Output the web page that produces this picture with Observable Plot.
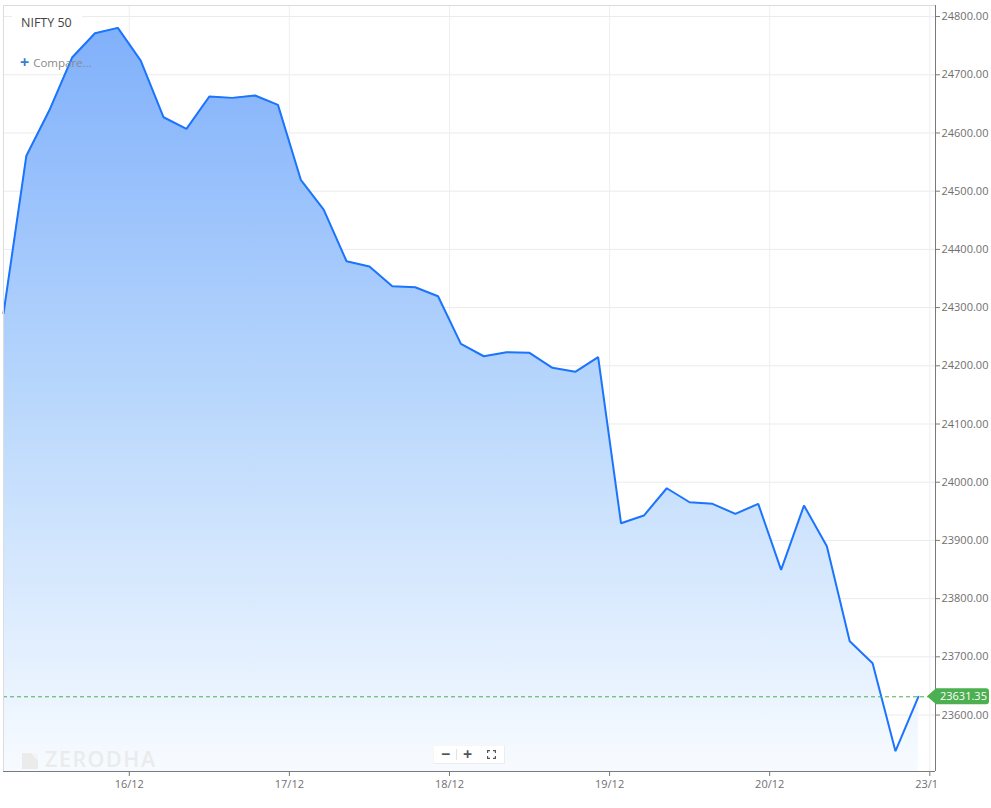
<!DOCTYPE html>
<html><head><meta charset="utf-8">
<script src="https://cdn.jsdelivr.net/npm/d3@7"></script>
<script src="https://cdn.jsdelivr.net/npm/@observablehq/plot@0.6"></script>
<style>
body{margin:0;background:#fff;font-family:"Open Sans",sans-serif;}
#wrap{position:relative;width:991px;height:808px;overflow:hidden;}
#wrap svg{position:absolute;left:0;top:0;}
.title{position:absolute;left:12px;top:9px;width:70px;height:30px;background:#fff;}
.title span{position:absolute;left:9px;top:5px;font-size:12.5px;color:#444;white-space:nowrap;}
.compare{position:absolute;left:20px;top:50px;font-size:11.5px;color:#8a8a8a;white-space:nowrap;}
.compare b{color:#387ed1;font-size:16px;font-weight:700;margin-right:4px;position:relative;top:1px;}
.wm{position:absolute;left:22px;top:744px;color:#ebebeb;font-size:21.5px;letter-spacing:1.5px;white-space:nowrap;font-weight:600;}
.wm svg{position:relative !important;vertical-align:-2px;margin-right:7px;}
.zc{position:absolute;left:433px;top:745px;width:70px;height:17px;background:#fff;border:1px solid #ececec;border-top-color:#f6f6f6;border-left-color:#f6f6f6;}
.zc span{position:absolute;top:-3px;font-size:16px;font-weight:700;color:#555;}
.zc i{position:absolute;left:22px;top:3px;width:1px;height:11px;background:#e3e3e3;}
</style></head><body><div id="wrap"></div>
<script>
// Sessions and hourly candles (close values)
const sessions = ["13/12","16/12","17/12","18/12","19/12","20/12"];
const hours = ["09:15","10:15","11:15","12:15","13:15","14:15","15:15"];
const tickLabels = ["16/12","17/12","18/12","19/12","20/12","23/12"];
const closes13 = [null, 24290, 24561, 24638.5, 24729.6, 24771.3, 24780.6];
const closes16 = [24724.4, 24627, 24607, 24662.6, 24660.3, 24664.3, 24648.3];
const closes17 = [24519.5, 24468.4, 24379.6, 24370.5, 24336.7, 24335, 24319.5];
const closes18 = [24237.7, 24216.4, 24223.3, 24222.3, 24196.5, 24189.6, 24215];
const closes19 = [23929.5, 23942.7, 23989.6, 23965.6, 23962.8, 23945.7, 23962.8];
const closes20 = [23849.5, 23960, 23890, 23726.8, 23689, 23538, 23631.35];
const lastPrice = 23631.35;
const yTicks = [23600, 23700, 23800, 23900, 24000, 24100, 24200, 24300, 24400, 24500, 24600, 24700, 24800];
const yDomain = [23503, 24819];

const allCloses = [closes13, closes16, closes17, closes18, closes19, closes20];
const data = [];
allCloses.forEach((arr, d) => arr.forEach((v, h) => {
  if (v != null) data.push({i: d * hours.length + h, day: sessions[d], time: hours[h], v});
}));
const n = hours.length;
const tickPos = tickLabels.map((_, k) => (k + 1) * n - 0.5);
const labelMap = new Map(tickPos.map((p, k) => [p, tickLabels[k]]));
const xDomain = [1, 6 * n - 0.25];

const defs = () => {
  const ns = "http://www.w3.org/2000/svg";
  const g = document.createElementNS(ns, "defs");
  g.innerHTML = `<linearGradient id="grad" gradientUnits="userSpaceOnUse" x1="0" y1="5" x2="0" y2="771">
      <stop offset="0" stop-color="#7daefb"/>
      <stop offset="0.5" stop-color="#b7d6fc"/>
      <stop offset="1" stop-color="#f7fbff"/>
    </linearGradient>
    <clipPath id="xclip"><rect x="0" y="0" width="936" height="808"/></clipPath>`;
  return g;
};

const plot = Plot.plot({
  width: 991, height: 808,
  marginLeft: 3, marginRight: 56, marginTop: 5, marginBottom: 37,
  style: {fontFamily: "'Open Sans', sans-serif", fontSize: "11px", background: "transparent", color: "#666"},
  x: {domain: xDomain, label: null},
  y: {domain: yDomain, label: null},
  marks: [
    defs,
    Plot.gridY(yTicks, {stroke: "#ebebeb", strokeOpacity: 1}),
    Plot.gridX(tickPos, {stroke: "#efefef", strokeOpacity: 1}),
    Plot.areaY(data, {x: "i", y: "v", fill: "url(#grad)", clip: true}),
    Plot.lineY(data, {x: "i", y: "v", stroke: "#1b74fd", strokeWidth: 2, strokeLinejoin: "miter"}),
    Plot.ruleY([lastPrice], {stroke: "#4caf50", strokeWidth: 1, strokeDasharray: "4,3"}),
    Plot.ruleY([yDomain[1]], {stroke: "#dcdcdc"}),
    Plot.ruleX([xDomain[0]], {stroke: "#dcdcdc"}),
    Plot.ruleY([yDomain[0]], {stroke: "#7a7a7a"}),
    Plot.ruleX([xDomain[1]], {stroke: "#7a7a7a"}),
    Plot.axisX({ticks: tickPos, tickFormat: d => labelMap.get(d), tickSize: 5, tickPadding: 4, stroke: "#7a7a7a", fill: "#6f6f6f", fontSize: 11}),
    Plot.axisY({anchor: "right", ticks: yTicks, tickFormat: d => d.toFixed(2), tickSize: 4, tickPadding: 2, stroke: "#7a7a7a", fill: "#6f6f6f", fontSize: 11})
  ]
});

const wrap = document.getElementById("wrap");
wrap.appendChild(plot);

// clip the last date label at the right axis like the original
const xl = plot.querySelector('g[aria-label="x-axis tick label"]');
if (xl) xl.setAttribute("clip-path", "url(#xclip)");

// last price tag
const yPos = plot.scale("y").apply(lastPrice);
const xR = plot.scale("x").apply(xDomain[1]);
const ns = "http://www.w3.org/2000/svg";
const tag = document.createElementNS(ns, "g");
tag.innerHTML = `<path d="M${xR-8},${yPos} L${xR+1},${yPos-8} L${xR+51},${yPos-8} Q${xR+54},${yPos-8} ${xR+54},${yPos-5} L${xR+54},${yPos+5} Q${xR+54},${yPos+8} ${xR+51},${yPos+8} L${xR+1},${yPos+8} Z" fill="#4caf50"/>
<text x="${xR+5}" y="${yPos+4}" text-anchor="start" fill="#fff" font-size="11" font-family="'Open Sans', sans-serif">${lastPrice.toFixed(2)}</text>`;
plot.appendChild(tag);

// overlays
wrap.insertAdjacentHTML("beforeend", `
<div class="title"><span>NIFTY 50</span></div>
<div class="compare"><b>+</b>Compare...</div>
<div class="wm"><svg width="16" height="16" viewBox="0 0 16 16"><path d="M0,0 L9,0 L16,7 L16,16 L0,16 Z" fill="#ebebeb"/><path d="M9,0 L16,0 L16,7 Z" fill="#f4f4f4"/></svg>ZERODHA</div>
<div class="zc"><span style="left:7px">−</span><i></i><span style="left:29px">+</span>
<svg style="position:absolute;left:53px;top:4px" width="9" height="9" viewBox="0 0 9 9" fill="none" stroke="#555" stroke-width="1.3"><path d="M0.5,3 V0.5 H3 M6,0.5 H8.5 V3 M8.5,6 V8.5 H6 M3,8.5 H0.5 V6"/></svg></div>
`);
</script>
</body></html>
